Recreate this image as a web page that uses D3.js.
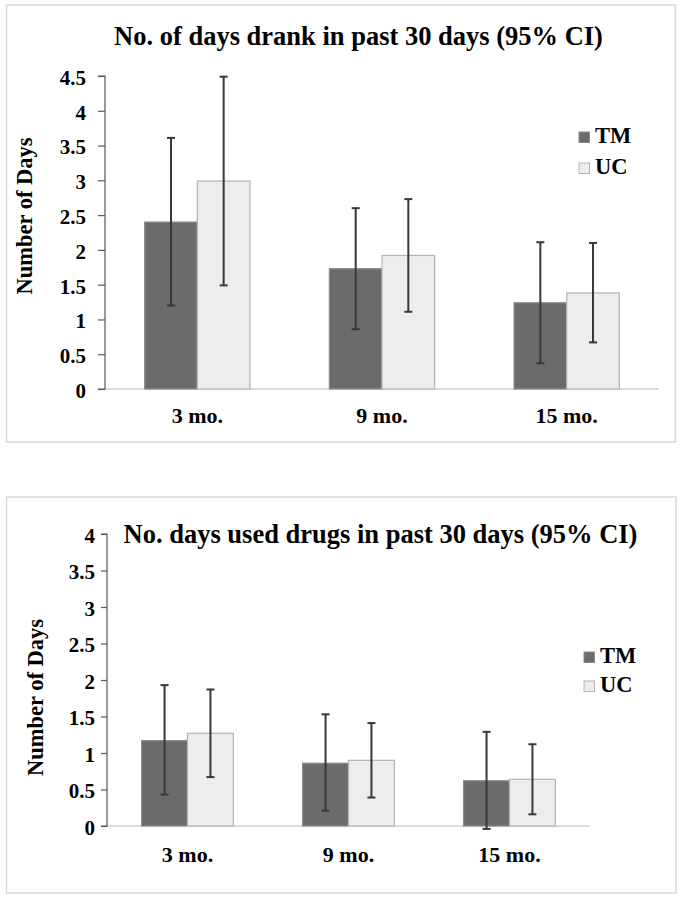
<!DOCTYPE html>
<html>
<head>
<meta charset="utf-8">
<script src="https://cdn.jsdelivr.net/npm/d3@7"></script>
<style>
  html, body { margin: 0; padding: 0; background: #ffffff; }
  svg { display: block; }
  text { font-family: "Liberation Serif", "Tinos", "Times New Roman", serif; font-weight: bold; fill: #000; }
</style>
</head>
<body>
<svg id="chart" width="683" height="900"></svg>
<script>
// ---------- data ----------
const categories = ["3 mo.", "9 mo.", "15 mo."];
const seriesNames = ["TM", "UC"];

// Chart 1: No. of days drank in past 30 days
const drinkTM = [2.40, 1.73, 1.24];
const drinkTMLow = [1.20, 0.86, 0.37];
const drinkTMHigh = [3.61, 2.60, 2.11];
const drinkUC = [2.99, 1.92, 1.38];
const drinkUCLow = [1.49, 1.11, 0.67];
const drinkUCHigh = [4.49, 2.73, 2.10];
const drinkTicks = [0, 0.5, 1, 1.5, 2, 2.5, 3, 3.5, 4, 4.5];

// Chart 2: No. days used drugs in past 30 days
const drugTM = [1.17, 0.86, 0.62];
const drugTMLow = [0.43, 0.21, -0.04];
const drugTMHigh = [1.93, 1.53, 1.29];
const drugUC = [1.27, 0.90, 0.64];
const drugUCLow = [0.67, 0.39, 0.16];
const drugUCHigh = [1.87, 1.41, 1.12];
const drugTicks = [0, 0.5, 1, 1.5, 2, 2.5, 3, 3.5, 4];

const titles = ["No. of days drank in past 30 days (95% CI)", "No. days used drugs in past 30 days (95% CI)"];
const yLabel = "Number of Days";

// ---------- drawing ----------
const svg = d3.select("#chart");
const fills = { TM: "#6b6b6b", UC: "#ededed" };
const strokes = { TM: "#8c8c8c", UC: "#b3b3b3" };
const FONT = '"Liberation Serif", "Tinos", "Times New Roman", serif';

function build(tm, tmLo, tmHi, uc, ucLo, ucHi) {
  return categories.map((c, i) => ({
    cat: c,
    values: [
      { key: "TM", v: tm[i], lo: tmLo[i], hi: tmHi[i] },
      { key: "UC", v: uc[i], lo: ucLo[i], hi: ucHi[i] }
    ]
  }));
}

function drawChart(o) {
  const g = svg.append("g");
  // frame
  g.append("rect")
    .attr("x", o.frame[0]).attr("y", o.frame[1])
    .attr("width", o.frame[2]).attr("height", o.frame[3])
    .attr("fill", "#fff").attr("stroke", "#d9d9d9").attr("stroke-width", 1.5);

  const x = d3.scaleBand().domain(categories).range([o.x0, o.x1])
    .paddingInner(0.43).paddingOuter(0.215);
  const xs = d3.scaleBand().domain(seriesNames).range([0, x.bandwidth()]).padding(0);
  const y = d3.scaleLinear().domain([0, o.yMax]).range([o.yBase, o.yTop]);

  // x axis line (light gray)
  g.append("line")
    .attr("x1", o.x0).attr("x2", o.x1)
    .attr("y1", y(0)).attr("y2", y(0))
    .attr("stroke", "#d0d0d0").attr("stroke-width", 1.5);

  // bars
  const grp = g.selectAll(".grp").data(o.data).join("g")
    .attr("transform", d => `translate(${x(d.cat)},0)`);
  grp.selectAll("rect").data(d => d.values).join("rect")
    .attr("x", d => xs(d.key))
    .attr("y", d => y(d.v))
    .attr("width", xs.bandwidth())
    .attr("height", d => y(0) - y(d.v))
    .attr("fill", d => fills[d.key])
    .attr("stroke", d => strokes[d.key])
    .attr("stroke-width", 1.2);

  // error bars
  const eb = grp.selectAll(".eb").data(d => d.values).join("g");
  const cx = d => xs(d.key) + xs.bandwidth() / 2;
  eb.append("line")
    .attr("x1", cx).attr("x2", cx)
    .attr("y1", d => y(d.lo)).attr("y2", d => y(d.hi))
    .attr("stroke", "#383838").attr("stroke-width", 2);
  ["lo", "hi"].forEach(k => {
    eb.append("line")
      .attr("x1", d => cx(d) - 4).attr("x2", d => cx(d) + 4)
      .attr("y1", d => y(d[k])).attr("y2", d => y(d[k]))
      .attr("stroke", "#383838").attr("stroke-width", 2);
  });

  // y axis
  const ya = g.append("g").attr("transform", `translate(${o.x0},0)`)
    .call(d3.axisLeft(y).tickValues(o.ticks).tickFormat(d3.format("~g"))
      .tickSize(o.tickSize).tickPadding(o.tickPad));
  ya.select(".domain").attr("stroke", "#595959").attr("stroke-width", 1.2)
    .attr("d", `M-${o.tickSize},${y(o.yMax)}H0V${y(0)}H-${o.tickSize}`);
  ya.selectAll(".tick line").attr("stroke", "#595959").attr("stroke-width", 1.2);
  ya.selectAll(".tick text")
    .attr("font-family", FONT)
    .attr("font-weight", "bold").attr("font-size", o.tickFont).attr("fill", "#000")
    .attr("dy", "0.4em");

  // x category labels
  g.selectAll(".xl").data(categories).join("text")
    .attr("x", d => x(d) + x.bandwidth() / 2)
    .attr("y", o.xLabelY)
    .attr("text-anchor", "middle")
    .attr("font-size", 22)
    .text(d => d);

  // title
  g.append("text")
    .attr("x", o.titleX).attr("y", o.titleY)
    .attr("text-anchor", "middle")
    .attr("font-size", 26.5)
    .text(o.title);

  // y label
  g.append("text")
    .attr("transform", `translate(${o.yLabX},${o.yLabY}) rotate(-90)`)
    .attr("text-anchor", "middle")
    .attr("font-size", 22.5)
    .text(yLabel);

  // legend
  const lg = g.selectAll(".lg").data(seriesNames).join("g")
    .attr("transform", (d, i) => `translate(${o.legX},${o.legY + i * o.legStep})`);
  lg.append("rect")
    .attr("x", 0).attr("y", -11).attr("width", 10.5).attr("height", 10.5)
    .attr("fill", d => fills[d]).attr("stroke", d => strokes[d]).attr("stroke-width", 1);
  lg.append("text")
    .attr("x", 16).attr("y", 0)
    .attr("font-size", 22.5)
    .text(d => d);
}

drawChart({
  frame: [6.5, 5, 669, 437],
  x0: 105, x1: 659, yBase: 389, yTop: 76, yMax: 4.5,
  ticks: drinkTicks, tickSize: 7, tickPad: 12, tickFont: 21,
  data: build(drinkTM, drinkTMLow, drinkTMHigh, drinkUC, drinkUCLow, drinkUCHigh),
  xLabelY: 423,
  title: titles[0], titleX: 358.5, titleY: 45,
  yLabX: 32, yLabY: 216,
  legX: 579, legY: 143, legStep: 31
});

drawChart({
  frame: [6.5, 497, 669.5, 396],
  x0: 107, x1: 590, yBase: 826, yTop: 534, yMax: 4,
  ticks: drugTicks, tickSize: 6, tickPad: 6, tickFont: 21,
  data: build(drugTM, drugTMLow, drugTMHigh, drugUC, drugUCLow, drugUCHigh),
  xLabelY: 862,
  title: titles[1], titleX: 380.5, titleY: 543,
  yLabX: 43, yLabY: 697.5,
  legX: 584, legY: 663, legStep: 29
});
</script>
</body>
</html>
